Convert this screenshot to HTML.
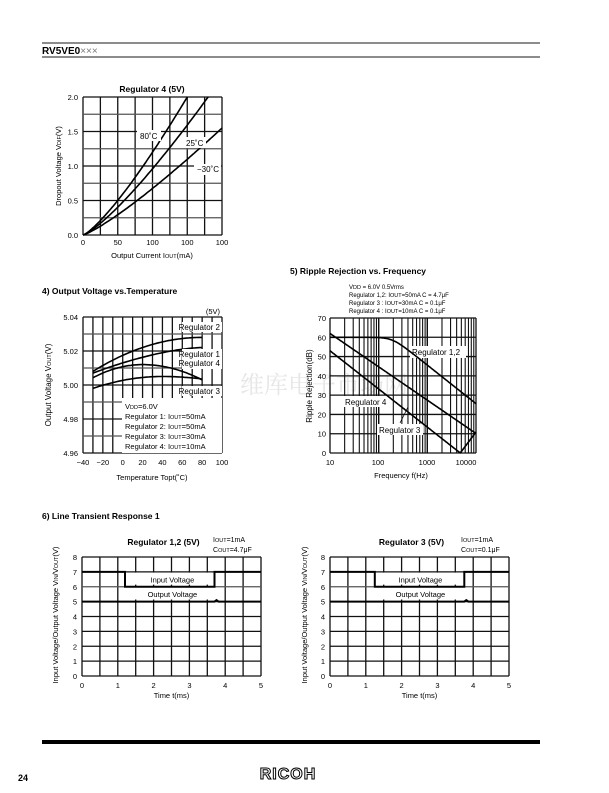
<!DOCTYPE html>
<html><head><meta charset="utf-8"><style>
html,body{margin:0;padding:0;background:#fff;}
svg{display:block;font-family:"Liberation Sans","Noto Sans CJK SC",sans-serif;}
</style></head><body>
<svg id="s" width="609" height="793" viewBox="0 0 609 793" xmlns="http://www.w3.org/2000/svg">
<rect width="609" height="793" fill="#fff"/>
<line x1="42" y1="43" x2="540" y2="43" stroke="#666" stroke-width="1.5"/>
<line x1="42" y1="57" x2="540" y2="57" stroke="#666" stroke-width="1.5"/>
<text x="42" y="54" font-size="10" font-weight="bold">RV5VE0<tspan font-weight="normal" fill="#777">×××</tspan></text>
<line x1="42" y1="742" x2="540" y2="742" stroke="#000" stroke-width="4"/>
<text x="18" y="781" font-size="9" font-weight="bold">24</text>
<text x="288" y="779" font-size="16" font-weight="bold" text-anchor="middle" fill="#fff" stroke="#000" stroke-width="1" letter-spacing="1">RICOH</text>
<text x="240" y="393" font-size="24" fill="#e6e6e6" font-family="Noto Serif CJK SC,serif">维库电子市场网</text>
<g id="g"></g>
</svg>
<script>
var g=document.getElementById('g'),h='';
function L(x1,y1,x2,y2,w,c){h+='<line x1="'+x1+'" y1="'+y1+'" x2="'+x2+'" y2="'+y2+'" stroke="'+(c||'#111')+'" stroke-width="'+(w||1)+'"/>';}
function T(x,y,s,sz,a,ex){h+='<text x="'+x+'" y="'+y+'" font-size="'+(sz||8)+'"'+(a?' text-anchor="'+a+'"':'')+(ex||'')+'>'+s+'</text>';}
function R(x,y,w,hh){h+='<rect x="'+x+'" y="'+y+'" width="'+w+'" height="'+hh+'" fill="#fff"/>';}
function P(pts,w){h+='<polyline fill="none" stroke="#000" stroke-width="'+(w||1.6)+'" points="'+pts.map(function(p){return p[0].toFixed(1)+','+p[1].toFixed(1)}).join(' ')+'"/>';}
function YL(x,y,s,sz){h+='<text transform="translate('+x+','+y+') rotate(-90)" font-size="'+(sz||7.5)+'" text-anchor="middle">'+s+'</text>';}
var sub=function(s){return '<tspan font-size="5.5">'+s+'</tspan>';};

// Chart 1
(function(){var x0=83,x1=222,y0=97,y1=235;
for(var i=0;i<=8;i++){var x=x0+(x1-x0)*i/8;L(x,y0,x,y1,1.3);}
for(var i=0;i<=8;i++){var y=y0+(y1-y0)*i/8;L(x0,y,x1,y,1.3,i%2?'#555':'#111');}
var X=function(v){return x0+(x1-x0)*v/200},Y=function(v){return y1-(y1-y0)*v/2};
[[2,150,1.26],[2,180,1.25],[1.55,200,1.2]].forEach(function(c){var p=[];for(var I=0;I<=200;I+=2){var v=c[0]*Math.pow(I/c[1],c[2]);if(v>2)break;p.push([X(I),Y(v)]);}P(p);});
R(137,130,24,11);T(140,139,'80˚C',8);R(184,137,22,11);T(186,146,'25˚C',8);R(194,164,27,11);T(197,172,'−30˚C',8);
['0.0','0.5','1.0','1.5','2.0'].forEach(function(s,i){T(78,y1-i*(y1-y0)/4+3,s,7.5,'end');});
['0','50','100','100','100'].forEach(function(s,i){T(x0+i*(x1-x0)/4,245,s,7.5,'middle');});
T(152,92,'Regulator 4 (5V)',8.5,'middle',' font-weight="bold"');
T(152,258,'Output Current I'+sub('OUT')+'(mA)',7.5,'middle');
YL(61,166,'Dropout Voltage V'+sub('DIF')+'(V)');
})();

// Chart 4
(function(){var x0=83,x1=222,y0=317,y1=453;
T(42,294,'4) Output Voltage vs.Temperature',8.5,null,' font-weight="bold"');
for(var i=0;i<=14;i++){var x=x0+(x1-x0)*i/14;L(x,y0,x,y1,1.3);}
for(var i=0;i<=8;i++){var y=y0+(y1-y0)*i/8;L(x0,y,x1,y,1.3,i%2?'#555':'#111');}
var X=function(t){return x0+(x1-x0)*(t+40)/140},Y=function(v){return y1-(y1-y0)*(v-4.96)/0.08};
function cv(f){var p=[];for(var t=-30;t<=80;t+=2)p.push([X(t),Y(f(t))]);P(p,1.6);}
cv(function(t){var u=(t+30)/110;return 5.008+0.02*(1-Math.pow(1-u,2));});
cv(function(t){var u=(t+30)/110;return 5.007+0.015*(1-Math.pow(1-u,1.6));});
cv(function(t){return 5.012-0.009*Math.pow((t-20)/60,2)-(t<20?0.0015*Math.pow((t-20)/50,2):0);});
cv(function(t){var d=(t-40)/70;return 5.005-0.007*d*d-(t>40?-0.0025*d*d:0);});
R(182,322,40,10);T(220,330,'Regulator 2',8,'end');
R(182,349,40,20);T(220,357,'Regulator 1',8,'end');T(220,366,'Regulator 4',8,'end');
R(182,386,40,10);T(220,394,'Regulator 3',8,'end');
R(122,398,100,55);
T(125,409,'V'+sub('DD')+'=6.0V',7.5);
['1: I'+sub('OUT')+'=50mA','2: I'+sub('OUT')+'=50mA','3: I'+sub('OUT')+'=30mA','4: I'+sub('OUT')+'=10mA'].forEach(function(s,i){T(125,419+i*10,'Regulator '+s,7.5);});
T(220,314,'(5V)',7.5,'end');
['4.96','4.98','5.00','5.02','5.04'].forEach(function(s,i){T(78,y1-i*(y1-y0)/4+3,s,7.5,'end');});
['−40','−20','0','20','40','60','80','100'].forEach(function(s,i){T(x0+i*(x1-x0)/7,465,s,7.5,'middle');});
T(152,480,'Temperature Topt(˚C)',7.5,'middle');
YL(51,385,'Output Voltage V'+sub('OUT')+'(V)',8);
})();

// Chart 5
(function(){var x0=330,x1=476,y0=318,y1=453;
T(290,274,'5) Ripple Rejection vs. Frequency',8.5,null,' font-weight="bold"');
var X=function(f){return x0+(x1-x0)*(Math.log10(f)-1)/3},Y=function(v){return y1-(y1-y0)*v/70};
for(var d=10;d<=1000;d*=10)for(var k=1;k<=10;k++){var x=X(d*k);L(x,y0,x,y1,k==1||k==10?1.3:1.1);}
for(var i=0;i<=7;i++)L(x0,Y(i*10),x1,Y(i*10),1.3);
function cv(f){var p=[];for(var e=1;e<=4.001;e+=0.02){var fr=Math.pow(10,e);p.push([X(fr),Y(f(fr,e))]);}P(p,1.6);}
R(410,346,56,12);R(343,396,46,11);R(377,424,46,11);
cv(function(f,e){return 60-5*Math.log10(1+Math.pow(f/190,4));});
cv(function(f,e){return 62-17.3*(e-1);});
cv(function(f,e){var v=53-19.8*(e-1);return v<0?-v*1.7:v;});
T(349,289,'V'+sub('DD')+' = 6.0V   0.5Vrms',6);
T(349,297,'Regulator 1,2: I'+sub('OUT')+'=50mA C = 4.7μF',6);
T(349,305,'Regulator 3   : I'+sub('OUT')+'=30mA C = 0.1μF',6);
T(349,313,'Regulator 4   : I'+sub('OUT')+'=10mA C = 0.1μF',6);
T(412,355,'Regulator 1,2',8);
T(345,405,'Regulator 4',8);
T(379,433,'Regulator 3',8);
L(400,423,408,407,0.8,'#000');
for(var i=0;i<=7;i++)T(326,Y(i*10)+3,''+i*10,7.5,'end');
T(330,465,'10',7.5,'middle');T(378,465,'100',7.5,'middle');T(427,465,'1000',7.5,'middle');T(466,465,'10000',7.5,'middle');
T(401,478,'Frequency f(Hz)',7.5,'middle');
YL(312,386,'Ripple Rejection(dB)',8);
})();

T(42,519,'6) Line Transient Response 1',8.5,null,' font-weight="bold"');
function tr(x0,x1,t1,t2,title,cout,ylx){var y0=557,y1=676;
for(var i=0;i<=10;i++){var x=x0+(x1-x0)*i/10;L(x,y0,x,y1,1.3);}
for(var i=0;i<=8;i++){var y=y0+(y1-y0)*i/8;L(x0,y,x1,y,1.3,(i==2)?'#555':'#111');}
var X=function(t){return x0+(x1-x0)*t/5},Y=function(v){return y1-(y1-y0)*v/8};
R(X(1.45),Y(6.95),X(3.6)-X(1.45),12);R(X(1.45),Y(5.95),X(3.6)-X(1.45),12);
P([[x0,Y(7)],[X(t1),Y(7)],[X(t1),Y(6)],[X(t2),Y(6)],[X(t2),Y(7)],[x1,Y(7)]],2);
P([[x0,Y(5)],[X(t2),Y(5)],[X(t2)+2,Y(5.1)],[X(t2)+4,Y(5)],[x1,Y(5)]],2);
T((X(1.45)+X(3.6))/2,Y(6.5)+3,'Input Voltage',7.5,'middle');
T((X(1.45)+X(3.6))/2,Y(5.5)+3,'Output Voltage',7.5,'middle');
for(var i=0;i<=8;i++)T(x0-5,Y(i)+3,''+i,7.5,'end');
for(var i=0;i<=5;i++)T(X(i),688,''+i,7.5,'middle');
T((x0+x1)/2,698,'Time t(ms)',7.5,'middle');
T((x0+x1)/2-8,545,title,8.5,'middle',' font-weight="bold"');
T(x1-48,542,'I'+sub('OUT')+'=1mA',7);T(x1-48,552,'C'+sub('OUT')+'='+cout,7);
YL(ylx,615,'Input  Voltage/Output Voltage V'+sub('IN')+'/V'+sub('OUT')+'(V)',7.5);
}
tr(82,261,1.2,3.7,'Regulator 1,2 (5V)','4.7μF',58);
tr(330,509,1.25,3.75,'Regulator 3 (5V)','0.1μF',307);
g.innerHTML=h;
</script>
</body></html>
